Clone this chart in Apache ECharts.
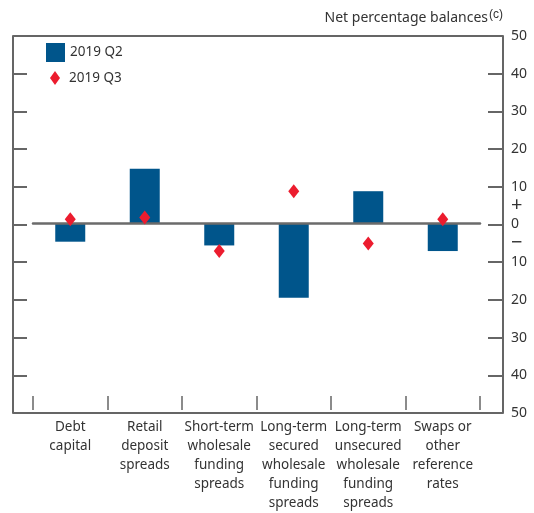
<!DOCTYPE html>
<html lang="en">
<head>
    <meta charset="UTF-8">
    <title>Net percentage balances</title>
    <script src="https://cdn.jsdelivr.net/npm/echarts/dist/echarts.min.js"></script>
    <style>
        html, body { margin: 0; padding: 0; background: #fff; }
    </style>
</head>
<body>
    <div id="main" style="width: 534px;height:513px;"></div>
    <script>
        var categories = [
            'Debt\ncapital',
            'Retail\ndeposit\nspreads',
            'Short-term\nwholesale\nfunding\nspreads',
            'Long-term\nsecured\nwholesale\nfunding\nspreads',
            'Long-term\nunsecured\nwholesale\nfunding\nspreads',
            'Swaps or\nother\nreference\nrates'
        ];
        var q2Values = [-5, 14.5, -6, -20, 8.5, -7.5];
        var q3Values = [1, 1.5, -7.5, 8.5, -5.5, 1];
        var seriesNames = ['2019 Q2', '2019 Q3'];

        var font = '"Noto Sans", "Open Sans", sans-serif';
        var textColor = '#333';
        var tickColor = '#666';

        var chart = echarts.init(document.getElementById('main'));
        var option = {
            animation: false,
            textStyle: { fontFamily: font },
            graphic: [{
                type: 'text',
                right: 31,
                top: 9,
                style: {
                    text: 'Net percentage balances{sup|(c)}',
                    font: '14px ' + font,
                    fill: textColor,
                    rich: {
                        sup: { fontSize: 12, verticalAlign: 'top', padding: [0, 0, 7, 1], fill: textColor }
                    }
                }
            }],
            legend: [{
                data: [seriesNames[0]],
                orient: 'vertical',
                left: 46,
                top: 43,
                padding: 0,
                itemWidth: 19,
                itemHeight: 19,
                icon: 'rect',
                textStyle: { fontSize: 13.5, color: textColor, fontFamily: font }
            }, {
                data: [seriesNames[1]],
                orient: 'vertical',
                left: 50,
                top: 71,
                padding: 0,
                itemWidth: 10,
                itemHeight: 14,
                icon: 'diamond',
                itemStyle: { opacity: 1 },
                textStyle: { fontSize: 13.5, color: textColor, fontFamily: font, padding: [0, 0, 0, 4] }
            }],
            grid: [
                { left: 33, right: 54, top: 36, bottom: 100 },
                { left: 13, right: 31, top: 36, bottom: 100, show: true, borderColor: '#333', borderWidth: 1.5 }
            ],
            xAxis: [{
                type: 'category',
                gridIndex: 0,
                data: categories,
                z: 3,
                axisLine: { show: true, onZero: true, lineStyle: { color: '#6b6b6b', width: 2.5 } },
                axisTick: { show: false },
                axisLabel: { show: false }
            }, {
                type: 'category',
                gridIndex: 0,
                position: 'bottom',
                data: categories,
                axisLine: { show: false, onZero: false },
                axisTick: { show: true, inside: true, length: 14, lineStyle: { color: tickColor, width: 1.5 } },
                axisLabel: {
                    interval: 0,
                    margin: 8,
                    fontSize: 13.5,
                    lineHeight: 19,
                    color: textColor,
                    fontFamily: font
                }
            }, {
                type: 'value',
                gridIndex: 1,
                show: false
            }],
            yAxis: [{
                type: 'value',
                gridIndex: 0,
                min: -50,
                max: 50,
                show: false
            }, {
                type: 'value',
                gridIndex: 1,
                position: 'left',
                min: -50,
                max: 50,
                interval: 10,
                axisLine: { show: false },
                axisTick: { show: true, inside: true, length: 14, lineStyle: { color: tickColor, width: 2 } },
                axisLabel: { show: false },
                splitLine: { show: false }
            }, {
                type: 'value',
                gridIndex: 1,
                position: 'right',
                min: -50,
                max: 50,
                interval: 10,
                axisLine: { show: false },
                axisTick: { show: true, inside: true, length: 15, lineStyle: { color: tickColor, width: 2 } },
                axisLabel: { show: false },
                splitLine: { show: false }
            }, {
                type: 'value',
                gridIndex: 1,
                position: 'right',
                min: -50,
                max: 50,
                interval: 5,
                axisLine: { show: false },
                axisTick: { show: false },
                splitLine: { show: false },
                axisLabel: {
                    margin: 8,
                    fontSize: 14,
                    color: textColor,
                    fontFamily: font,
                    rich: {
                        pm: { fontSize: 20, color: textColor, fontFamily: font }
                    },
                    formatter: function (v) {
                        if (v % 10 === 0) return String(Math.abs(v));
                        if (v === 5) return '{pm|+}';
                        if (v === -5) return '{pm|\u2212}';
                        return '';
                    }
                }
            }],
            series: [{
                name: seriesNames[0],
                type: 'bar',
                xAxisIndex: 0,
                yAxisIndex: 0,
                data: q2Values,
                barWidth: 30,
                itemStyle: { color: '#00558b' },
                z: 2
            }, {
                name: seriesNames[1],
                type: 'scatter',
                xAxisIndex: 0,
                yAxisIndex: 0,
                data: q3Values,
                symbol: 'diamond',
                symbolSize: [11, 14],
                itemStyle: { color: '#ec1c2e', opacity: 1 },
                z: 5
            }]
        };

        chart.setOption(option);
    </script>
</body>
</html>
